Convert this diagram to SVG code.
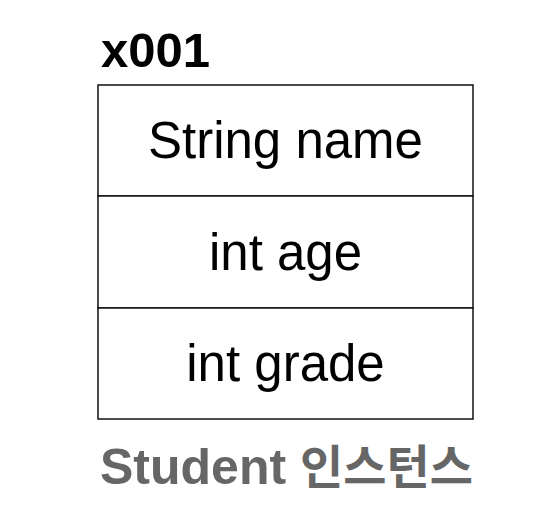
<svg xmlns="http://www.w3.org/2000/svg" width="554" height="530" viewBox="0 0 554 530">
<style>
.cell{fill:#fff;stroke:#111;stroke-width:1.5}
.t{font-family:"Liberation Sans",Arial,sans-serif;font-size:51px;fill:#000;text-anchor:middle}
.b{font-family:"Liberation Sans",Arial,sans-serif;font-weight:bold}
</style>
<rect width="554" height="530" fill="#fff"/>
<g id="addr"><text class="b" x="101" y="67" font-size="49" fill="#000">x001</text></g>
<g id="field-name"><rect class="cell" x="98" y="85" width="375" height="111"/><text class="t" x="285.5" y="158">String name</text></g>
<g id="field-age"><rect class="cell" x="98" y="196" width="375" height="112"/><text class="t" x="285.5" y="270">int age</text></g>
<g id="field-grade"><rect class="cell" x="98" y="308" width="375" height="111"/><text class="t" x="285.5" y="381">int grade</text></g>
<g id="caption"><text class="b" x="100" y="484" font-size="50" fill="#666">Student <tspan font-family="'Noto Sans CJK KR',sans-serif" font-size="47">인스턴스</tspan></text></g>
<g id="connectors"/>
</svg>
